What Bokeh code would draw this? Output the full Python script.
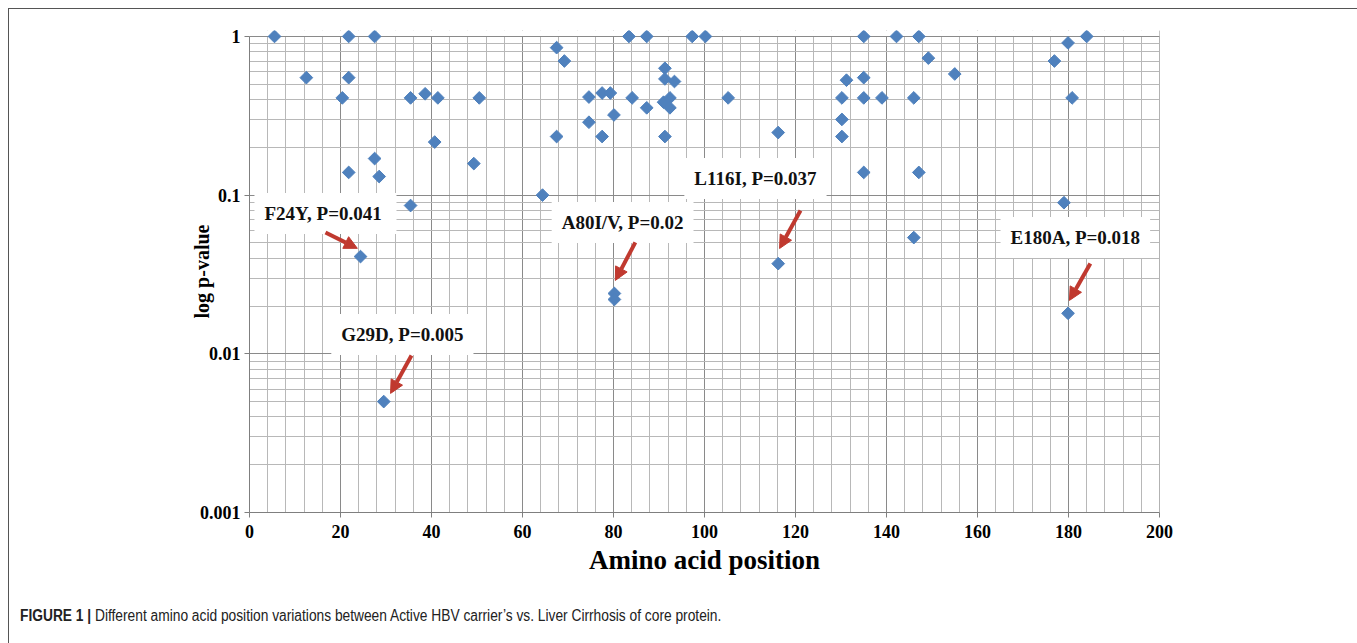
import math
from bokeh.plotting import figure
from bokeh.layouts import column
from bokeh.models import (Range1d, SingleIntervalTicker, LogTicker, CustomJSTickFormatter,
                          Label, Arrow, NormalHead, BoxAnnotation, Div)
from bokeh.embed import file_html
from bokeh.resources import INLINE

# ---- data ----
positions = [5.5, 12.5, 20.4, 21.8, 21.8, 21.8, 24.4, 27.5, 27.5, 28.5, 29.5,
             35.4, 35.4, 38.6, 40.7, 41.4, 49.3, 50.5, 64.4, 67.5, 67.5, 69.2,
             74.6, 74.6, 77.5, 77.5, 79.3, 80.1, 80.2, 80.2, 83.4, 84.1, 87.3, 87.3,
             91.3, 91.3, 93.4, 91.0, 92.4, 92.4, 91.3, 97.3, 100.2, 105.2, 116.2, 116.2,
             130.2, 130.2, 130.2, 131.2, 135.0, 135.0, 135.0, 135.0, 139.0, 142.2,
             146.0, 146.0, 147.1, 147.1, 149.2, 155.0, 176.9, 179.0, 179.9, 179.9, 180.8, 184.0]
p_values = [1.0, 0.55, 0.41, 1.0, 0.55, 0.139, 0.041, 1.0, 0.17, 0.131, 0.005,
            0.41, 0.086, 0.435, 0.216, 0.41, 0.158, 0.41, 0.1, 0.85, 0.234, 0.70,
            0.415, 0.288, 0.44, 0.234, 0.44, 0.32, 0.024, 0.022, 1.0, 0.41, 1.0, 0.355,
            0.63, 0.54, 0.52, 0.385, 0.41, 0.355, 0.234, 1.0, 1.0, 0.41, 0.248, 0.037,
            0.41, 0.30, 0.234, 0.53, 1.0, 0.55, 0.41, 0.139, 0.41, 1.0,
            0.41, 0.054, 1.0, 0.139, 0.73, 0.58, 0.70, 0.0896, 0.91, 0.018, 0.41, 1.0]

x_label = "Amino acid position"
y_label = "log p-value"

ann_labels = ["F24Y,  P=0.041", "G29D, P=0.005", "A80I/V, P=0.02", "L116I, P=0.037", "E180A, P=0.018"]
ann_text_x = [16.7, 33.6, 82.0, 111.2, 181.5]
ann_text_y = [0.0767, 0.01325, 0.0673, 0.1274, 0.0541]
arrow_x0 = [16.7, 35.6, 84.8, 121.1, 184.8]
arrow_y0 = [0.0582, 0.00977, 0.0504, 0.0801, 0.0371]
arrow_x1 = [23.7, 31.0, 80.4, 116.5, 180.2]
arrow_y1 = [0.0462, 0.00563, 0.0290, 0.0461, 0.0217]

caption_bold = "FIGURE 1 |"
caption_text = "Different amino acid position variations between Active HBV carrier\u2019s vs. Liver Cirrhosis of core protein."

BLUE = "#4f81bd"
RED = "#c0392f"
SERIF = "Liberation Serif"

p = figure(width=1340, height=585, title=None,
           x_range=Range1d(0, 200.0001), y_range=Range1d(0.001, 1.09),
           y_axis_type="log", output_backend="svg", toolbar_location=None,
           min_border_left=240, min_border_right=190, min_border_top=21, min_border_bottom=82)
p.outline_line_color = None
p.background_fill_color = "white"
p.border_fill_color = "white"

# axes
p.xaxis.ticker = SingleIntervalTicker(interval=20, num_minor_ticks=5)
p.yaxis.ticker = LogTicker(num_minor_ticks=10)
p.yaxis.formatter = CustomJSTickFormatter(code="return String(Number(tick.toPrecision(3)));")
p.yaxis.bounds = (0.001, 1)
for ax in (p.xaxis, p.yaxis):
    ax.axis_line_color = "#7f7f7f"
    ax.major_tick_line_color = "#7f7f7f"
    ax.major_tick_out = 5
    ax.major_tick_in = 0
    ax.minor_tick_line_color = None
    ax.major_label_text_font = SERIF
    ax.major_label_text_font_style = "bold"
    ax.major_label_text_font_size = "18px"
    ax.major_label_text_color = "black"
p.xaxis.major_label_standoff = 7
p.yaxis.major_label_standoff = 4
p.xaxis.axis_label = x_label
p.xaxis.axis_label_text_font = SERIF
p.xaxis.axis_label_text_font_style = "bold"
p.xaxis.axis_label_text_font_size = "27px"
p.xaxis.axis_label_text_color = "black"
p.xaxis.axis_label_standoff = 4
p.yaxis.axis_label = y_label
p.yaxis.axis_label_text_font = SERIF
p.yaxis.axis_label_text_font_style = "bold"
p.yaxis.axis_label_text_font_size = "20px"
p.yaxis.axis_label_text_color = "black"
p.yaxis.axis_label_standoff = -16

# grids
for g in (p.xgrid, p.ygrid):
    g.grid_line_color = "#8a8a8a"
    g.grid_line_width = 1
    g.minor_grid_line_color = "#b8b8b8"
    g.minor_grid_line_width = 1
    g.level = "image"

# mask the sliver above p=1 so the grid ends at 1
p.add_layout(BoxAnnotation(bottom=1.008, fill_color="white", fill_alpha=1,
                           line_color=None, level="underlay"))

p.scatter(positions, p_values, marker="square", size=9, angle=math.pi / 4,
          fill_color=BLUE, line_color=BLUE)

for t, tx, ty, x0, y0, x1, y1 in zip(ann_labels, ann_text_x, ann_text_y,
                                      arrow_x0, arrow_y0, arrow_x1, arrow_y1):
    p.add_layout(Label(x=tx, y=ty, text=t, text_align="center", text_baseline="middle",
                       text_font=SERIF, text_font_style="bold", text_font_size="19px",
                       text_color="#111111", background_fill_color="white", padding=10))
    p.add_layout(Arrow(x_start=x0, y_start=y0, x_end=x1, y_end=y1,
                       line_color=RED, line_width=4,
                       end=NormalHead(size=13, fill_color=RED, line_color=RED, line_width=1)))

# caption below the chart (condensed sans look)
cap = Div(width=1340, height=49,
          text=("<div style=\"font-family:'Liberation Sans',Arial,sans-serif;font-size:16px;"
                "color:#222;white-space:nowrap;padding:6px 0 0 7px;"
                "transform:scaleX(0.86);transform-origin:left top;\">"
                "<b>" + caption_bold + "</b> " + caption_text + "</div>"))

lay = column(p, cap, spacing=0)
lay.styles = {"margin-left": "8px", "margin-top": "8px",
              "border-left": "1px solid #555", "border-top": "1px solid #555",
              "border-right": "1px solid #555"}

open("out.html", "w").write(file_html(lay, INLINE))
